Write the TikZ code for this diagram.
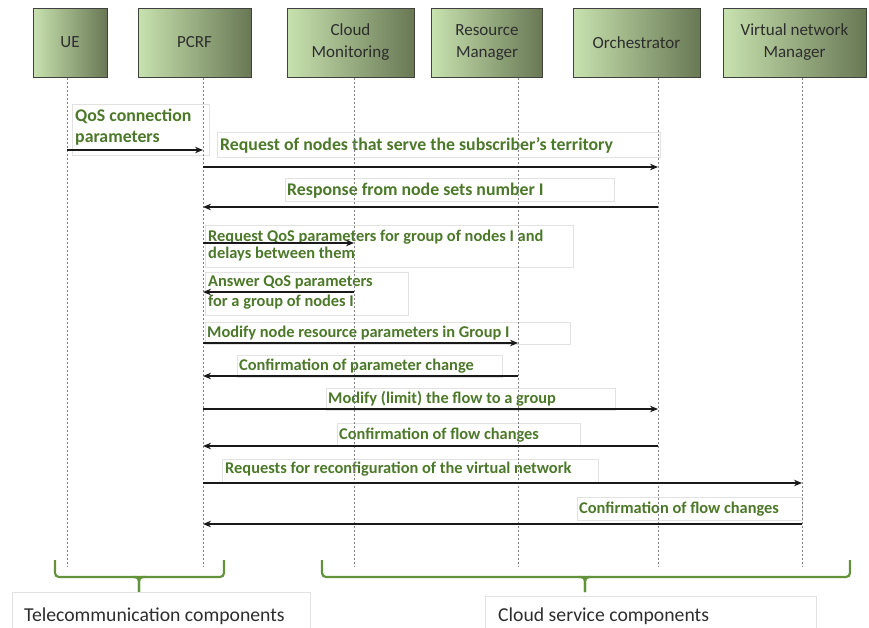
\documentclass[tikz,border=0pt]{standalone}
\usepackage{fontspec}
\setmainfont{Carlito}
\usetikzlibrary{arrows.meta}
\definecolor{hdrL}{RGB}{200,226,175}
\definecolor{hdrR}{RGB}{104,120,84}
\definecolor{lblc}{RGB}{76,120,42}
\definecolor{brc}{RGB}{98,146,58}
\definecolor{boxln}{RGB}{226,226,226}
\definecolor{hdrtxt}{RGB}{45,45,45}
\tikzset{
  hdr/.style={draw=black!75, line width=1pt, left color=hdrL, right color=hdrR,
    minimum height=69pt, inner sep=0pt, align=center, text=hdrtxt,
    font=\fontsize{17}{22}\selectfont},
  lbltext/.style={inner sep=0pt, anchor=west, align=left, text=lblc,
    font=\fontsize{16.4}{19}\selectfont\bfseries},
  lbltextbig/.style={lbltext, font=\fontsize{17.8}{21}\selectfont\bfseries},
  lblbox/.style={draw=boxln, line width=0.6pt},
  lifeline/.style={draw=black!50, line width=0.7pt, dash pattern=on 2.5pt off 1.5pt},
  msg/.style={draw=black!90, line width=1.4pt, -{Stealth[length=8pt,width=6.5pt]}},
  bracestyle/.style={draw=brc, line width=2.2pt, rounded corners=4pt},
  bottomtext/.style={inner sep=0pt, anchor=west, text=hdrtxt, font=\fontsize{19.7}{24}\selectfont}
}
\begin{document}
\begin{tikzpicture}[x=1pt,y=-1pt]
\useasboundingbox (0,0) rectangle (869,627);

% ---------- label boxes ----------
\draw[lblbox] (72,104) rectangle (209,155);
\draw[lblbox] (217,132) rectangle (660,157);
\draw[lblbox] (285,178) rectangle (614,201);
\draw[lblbox] (205,225) rectangle (573,267);
\draw[lblbox] (205,272) rectangle (408,315);
\draw[lblbox] (205,322) rectangle (570,344);
\draw[lblbox] (237,355) rectangle (502,377);
\draw[lblbox] (326,388) rectangle (615,410);
\draw[lblbox] (337,423) rectangle (580,446);
\draw[lblbox] (222,459) rectangle (598,483);
\draw[lblbox] (577,497) rectangle (802,520);

% ---------- label texts ----------
\node[lbltextbig] (l1) at (75,127.5) {QoS connection\\parameters};
\node[lbltextbig] (l2) at (220,145) {Request of nodes that serve the subscriber's territory};
\node[lbltextbig] (l3) at (287,191) {Response from node sets number I};
\node[lbltext, font=\fontsize{16.4}{17}\selectfont\bfseries] (l4) at (208,245.5) {Request QoS parameters for group of nodes I and\\delays between them};
\node[lbltext, font=\fontsize{16.4}{20}\selectfont\bfseries] (l5) at (208,293) {Answer QoS parameters\\for a group of nodes I};
\node[lbltext] (l6) at (207,333) {Modify node resource parameters in Group I};
\node[lbltext] (l7) at (239,366) {Confirmation of parameter change};
\node[lbltext] (l8) at (328,399) {Modify (limit) the flow to a group};
\node[lbltext] (l9) at (339,435) {Confirmation of flow changes};
\node[lbltext] (l10) at (225,469) {Requests for reconfiguration of the virtual network};
\node[lbltext] (l11) at (579,509) {Confirmation of flow changes};

% ---------- headers ----------
\node[hdr, minimum width=74pt]  (ue)   at (70,42.5)    {UE};
\node[hdr, minimum width=113pt] (pcrf) at (194.5,42.5) {PCRF};
\node[hdr, minimum width=127pt] (cm)   at (350.5,42.5) {Cloud\\Monitoring};
\node[hdr, minimum width=111pt] (rm)   at (487,42.5)   {Resource\\Manager};
\node[hdr, minimum width=127pt] (orch) at (636.5,42.5) {Orchestrator};
\node[hdr, minimum width=143pt] (vnm)  at (794.5,42.5) {Virtual network\\Manager};

% ---------- lifelines ----------
\foreach \n/\x in {ue/67, pcrf/203, cm/354, rm/518, orch/658, vnm/802}{
  \coordinate (\n T) at (\x,77.5);
  \coordinate (\n B) at (\x,566);
  \draw[lifeline] (\n T) -- (\n B);
}

% ---------- message rows ----------
\foreach \i/\y in {1/150, 2/167, 3/207, 4/243, 5/292, 6/343, 7/376, 8/409, 9/446, 10/483, 11/524}{
  \coordinate (y\i) at (0,\y);
}
\draw[msg] (ueT |- y1) -- (pcrfT |- y1);
\draw[msg] (pcrfT |- y2) -- (orchT |- y2);
\draw[msg] (orchT |- y3) -- (pcrfT |- y3);
\draw[msg] (pcrfT |- y4) -- (cmT |- y4);
\draw[msg] (cmT |- y5) -- (pcrfT |- y5);
\draw[msg] (pcrfT |- y6) -- (rmT |- y6);
\draw[msg] (rmT |- y7) -- (pcrfT |- y7);
\draw[msg] (pcrfT |- y8) -- (orchT |- y8);
\draw[msg] (orchT |- y9) -- (pcrfT |- y9);
\draw[msg] (pcrfT |- y10) -- (vnmT |- y10);
\draw[msg] (vnmT |- y11) -- (pcrfT |- y11);

% ---------- braces ----------
\coordinate (b1L) at (55,560);
\coordinate (b1R) at (224,560);
\coordinate (b1M) at (139,577);
\coordinate (b1P) at (139,592);
\draw[bracestyle] (b1L) |- (b1M);
\draw[bracestyle] (b1R) |- (b1M);
\draw[bracestyle] (b1M) ++(-6,0) -| (b1P);
\draw[bracestyle] (b1M) ++(6,0) -| (b1P);

\coordinate (b2L) at (322,560);
\coordinate (b2R) at (850,560);
\coordinate (b2M) at (585,577);
\coordinate (b2P) at (585,592);
\draw[bracestyle] (b2L) |- (b2M);
\draw[bracestyle] (b2R) |- (b2M);
\draw[bracestyle] (b2M) ++(-6,0) -| (b2P);
\draw[bracestyle] (b2M) ++(6,0) -| (b2P);

% ---------- bottom captions ----------
\draw[lblbox] (12,628) |- (310,592) -- (310,628);
\draw[lblbox] (485,628) |- (816,596) -- (816,628);
\node[bottomtext] (tc) at (24,616) {Telecommunication components};
\node[bottomtext] (cs) at (498,616) {Cloud service components};
\end{tikzpicture}
\end{document}
